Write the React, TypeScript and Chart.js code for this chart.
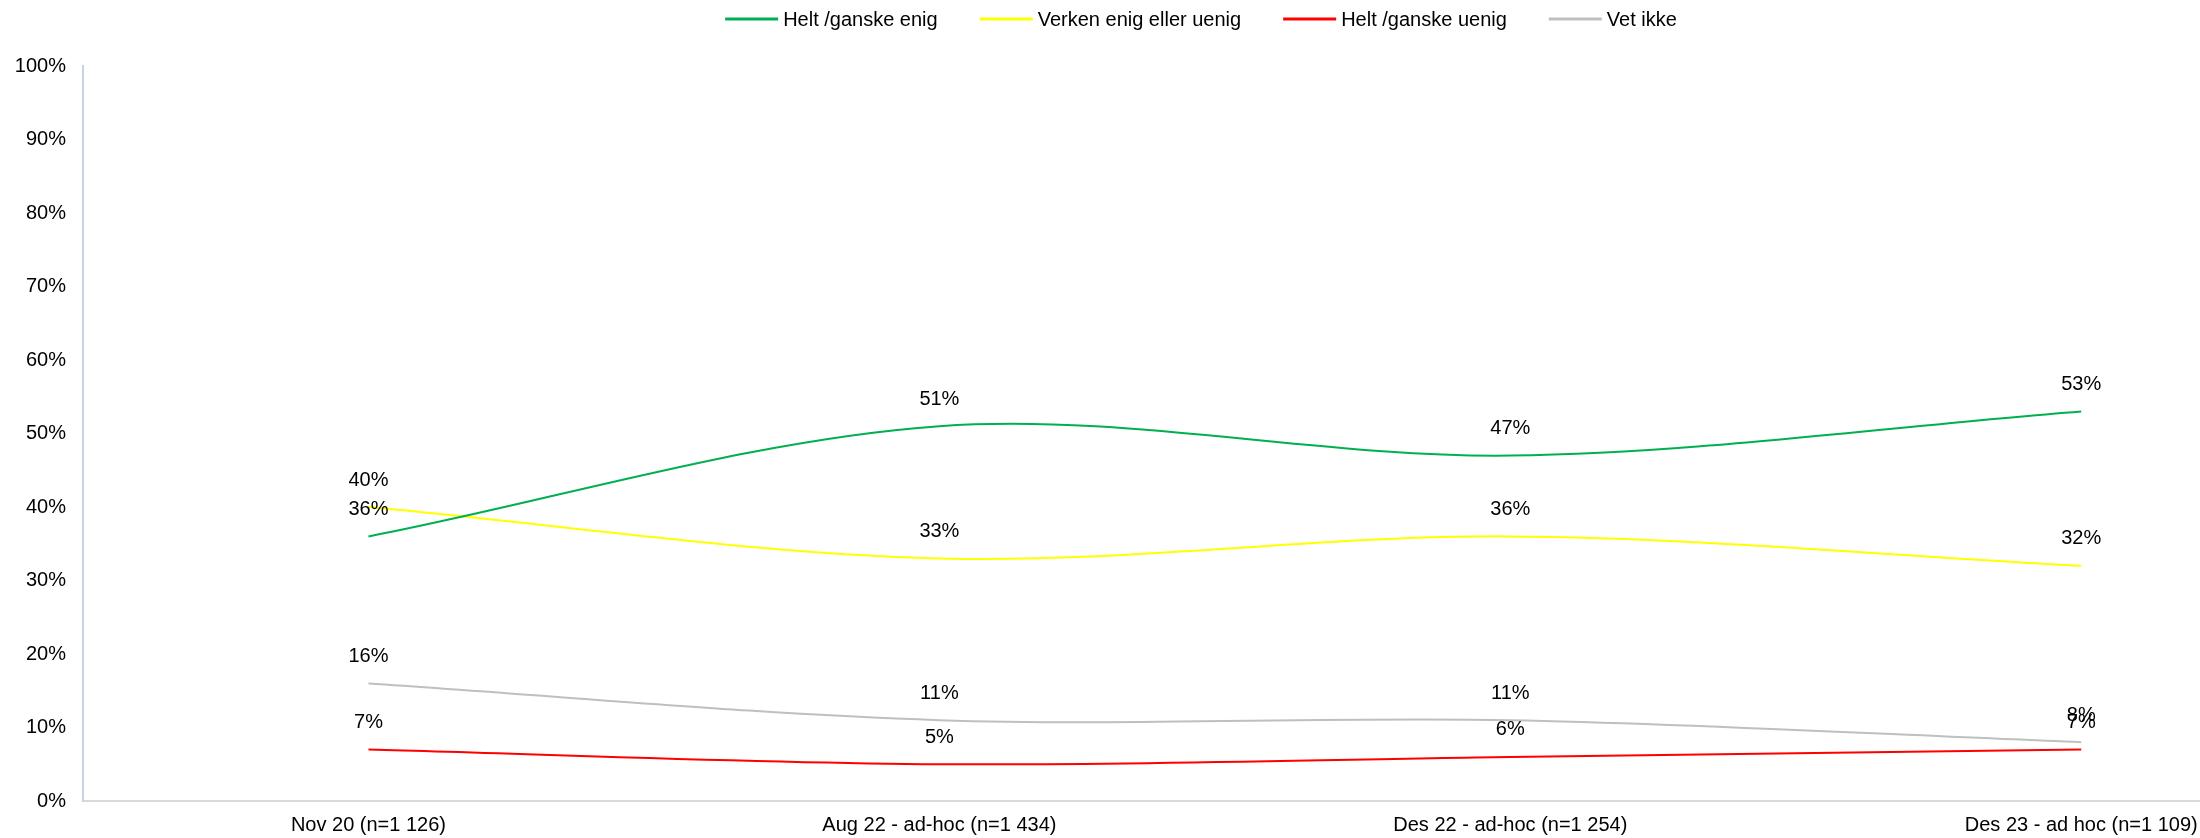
import React, { useEffect, useRef } from "react";
import { Chart, registerables } from "chart.js";

Chart.register(...registerables);

const categories = [
  "Nov 20 (n=1 126)",
  "Aug 22 - ad-hoc (n=1 434)",
  "Des 22 - ad-hoc (n=1 254)",
  "Des 23 - ad hoc (n=1 109)",
];

const seriesNames = [
  "Helt /ganske enig",
  "Verken enig eller uenig",
  "Helt /ganske uenig",
  "Vet ikke",
];

const enigValues = [36, 51, 47, 53];
const verkenValues = [40, 33, 36, 32];
const uenigValues = [7, 5, 6, 7];
const vetIkkeValues = [16, 11, 11, 8];

const seriesColors = ["#00B050", "#FFFF00", "#FF0000", "#BFBFBF"];

const yTicks = [0, 10, 20, 30, 40, 50, 60, 70, 80, 90, 100];

const LABEL_FONT = "20px 'Liberation Sans', Arial, sans-serif";
const LEGEND_FONT = "20px 'Liberation Sans', Arial, sans-serif";

const dataLabelPlugin = {
  id: "dataLabels",
  afterDatasetsDraw(chart: any) {
    const ctx = chart.ctx;
    ctx.save();
    ctx.font = LABEL_FONT;
    ctx.fillStyle = "#000000";
    ctx.textAlign = "center";
    ctx.textBaseline = "middle";
    chart.data.datasets.forEach((ds: any, di: number) => {
      const meta = chart.getDatasetMeta(di);
      meta.data.forEach((pt: any, i: number) => {
        const v = ds.data[i].y;
        ctx.fillText(v + "%", pt.x, pt.y - 27);
      });
    });
    ctx.restore();
  },
};

const legendPlugin = {
  id: "customLegend",
  afterDraw(chart: any) {
    const ctx = chart.ctx;
    ctx.save();
    ctx.font = LEGEND_FONT;
    ctx.textBaseline = "middle";
    ctx.textAlign = "left";
    const lineLen = 53;
    const gap = 5;
    const itemGap = 42;
    const widths = seriesNames.map((n) => lineLen + gap + ctx.measureText(n).width);
    const total = widths.reduce((a, b) => a + b, 0) + itemGap * (seriesNames.length - 1);
    let x = 1201 - total / 2;
    const y = 19;
    seriesNames.forEach((n, i) => {
      ctx.strokeStyle = seriesColors[i];
      ctx.lineWidth = 3;
      ctx.beginPath();
      ctx.moveTo(x, y);
      ctx.lineTo(x + lineLen, y);
      ctx.stroke();
      ctx.fillStyle = "#000000";
      ctx.fillText(n, x + lineLen + gap, y + 1);
      x += widths[i] + itemGap;
    });
    ctx.restore();
  },
};

export default function App() {
  const canvasRef = useRef<HTMLCanvasElement | null>(null);

  useEffect(() => {
    document.body.style.margin = "0";
    const allValues = [enigValues, verkenValues, uenigValues, vetIkkeValues];
    const chart = new Chart(canvasRef.current as HTMLCanvasElement, {
      type: "line",
      data: {
        datasets: allValues.map((vals, si) => ({
          label: seriesNames[si],
          data: vals.map((v, i) => ({ x: i, y: v })),
          borderColor: seriesColors[si],
          backgroundColor: seriesColors[si],
          borderWidth: 2,
          pointRadius: 0,
          tension: 0.33,
          fill: false,
        })),
      },
      options: {
        animation: false,
        responsive: false,
        devicePixelRatio: 1,
        layout: { padding: { top: 66, left: 0, right: 0, bottom: 0 } },
        plugins: {
          legend: { display: false },
          tooltip: { enabled: false },
        },
        scales: {
          x: {
            type: "linear",
            min: -0.5,
            max: 3.208,
            grid: { display: false, drawTicks: false },
            border: { display: true, color: "#D9D9D9", width: 2 },
            afterBuildTicks: (scale: any) => {
              scale.ticks = categories.map((_, i) => ({ value: i }));
            },
            afterFit: (scale: any) => {
              scale.height = 37;
              scale.paddingLeft = 0;
              scale.paddingRight = 0;
            },
            ticks: {
              autoSkip: false,
              maxRotation: 0,
              minRotation: 0,
              padding: 12,
              color: "#000000",
              font: { family: "'Liberation Sans', Arial, sans-serif", size: 20 },
              callback: (v: any) => categories[v as number] ?? "",
            },
          },
          y: {
            min: 0,
            max: 100,
            grid: { display: false, drawTicks: false },
            border: { display: true, color: "#C5D3E6", width: 2 },
            afterBuildTicks: (scale: any) => {
              scale.ticks = yTicks.map((v) => ({ value: v }));
            },
            afterFit: (scale: any) => {
              scale.width = 83;
            },
            ticks: {
              padding: 17,
              color: "#000000",
              font: { family: "'Liberation Sans', Arial, sans-serif", size: 20 },
              callback: (v: any) => v + "%",
            },
          },
        },
      },
      plugins: [dataLabelPlugin, legendPlugin],
    });
    return () => chart.destroy();
  }, []);

  return (
    <div style={{ width: 2200, height: 838 }}>
      <canvas ref={canvasRef} width={2200} height={838} />
    </div>
  );
}
